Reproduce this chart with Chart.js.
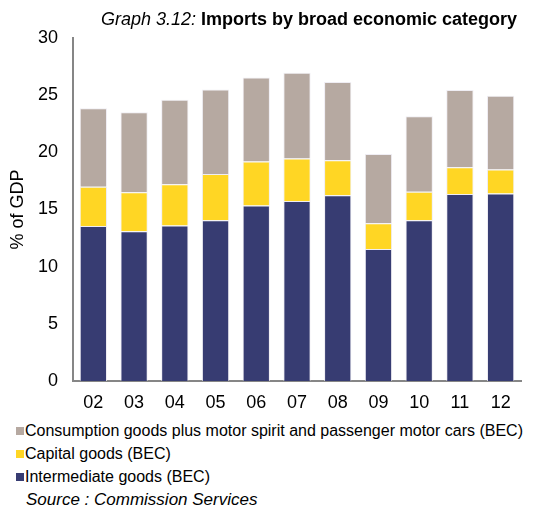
<!DOCTYPE html>
<html>
<head>
<meta charset="utf-8">
<script src="https://cdn.jsdelivr.net/npm/chart.js@4"></script>
<style>
  body { margin: 0; background: #fff; font-family: "Liberation Sans", Arial, sans-serif; color: #000; }
  #wrap { position: relative; width: 548px; height: 510px; }
  #title { position: absolute; left: 0; width: 618px; top: 8px; text-align: center; font-size: 18px; line-height: 22px; }
  #title i { font-weight: normal; }
  #chartBox { position: absolute; left: 0; top: 0; width: 548px; height: 415px; }
  #legend { position: absolute; left: 16px; top: 419px; font-size: 16px; }
  .item { height: 23px; line-height: 23px; white-space: nowrap; }
  .sw { display: inline-block; width: 8px; height: 8px; margin-right: 1px; vertical-align: 1px; }
  #source { position: absolute; left: 26px; top: 490px; font-size: 17px; font-style: italic; }
</style>
</head>
<body>
<div id="wrap">
  <div id="chartBox"><canvas id="myChart"></canvas></div>
  <div id="title"><i>Graph 3.12:</i> <b>Imports by broad economic category</b></div>
  <div id="legend"></div>
  <div id="source">Source : Commission Services</div>
</div>
<script>
// Données (% du PIB)
const years = ['02', '03', '04', '05', '06', '07', '08', '09', '10', '11', '12'];
const intermediate = [13.55, 13.1, 13.6, 14.05, 15.35, 15.75, 16.25, 11.55, 14.05, 16.35, 16.4];
const capital = [3.45, 3.4, 3.6, 4.05, 3.85, 3.7, 3.05, 2.25, 2.5, 2.35, 2.1];
const consumption = [6.85, 7.0, 7.4, 7.4, 7.35, 7.5, 6.85, 6.05, 6.6, 6.75, 6.45];
const yTicks = [0, 5, 10, 15, 20, 25, 30];

const seriesNames = [
    'Intermediate goods (BEC)',
    'Capital goods (BEC)',
    'Consumption goods plus motor spirit and passenger motor cars (BEC)'
];
const seriesColors = ['#373c72', '#ffd624', '#b6a9a1'];

const ctx = document.getElementById('myChart').getContext('2d');
const myChart = new Chart(ctx, {
    type: 'bar',
    data: {
        labels: years,
        datasets: [intermediate, capital, consumption].map((values, i) => ({
            label: seriesNames[i],
            data: values,
            backgroundColor: seriesColors[i],
            borderColor: 'rgba(235,232,240,0.8)',
            borderWidth: 1,
            barPercentage: 0.67,
            categoryPercentage: 1
        }))
    },
    options: {
        responsive: true,
        maintainAspectRatio: false,
        animation: false,
        layout: { padding: { top: 38, right: 27, left: 0, bottom: 0 } },
        plugins: {
            legend: { display: false },
            tooltip: { enabled: false }
        },
        scales: {
            x: {
                stacked: true,
                grid: { display: false, drawTicks: false },
                border: { display: true, color: '#868686', width: 2 },
                ticks: { color: '#000', font: { family: 'Liberation Sans', size: 18 }, padding: 11, maxRotation: 0 },
                afterFit: function(scale) { scale.height = 34; }
            },
            y: {
                stacked: true,
                min: 0,
                max: 30,
                grid: { display: false, drawTicks: false },
                border: { display: true, color: '#868686', width: 2 },
                afterBuildTicks: function(scale) {
                    scale.ticks = yTicks.map(v => ({ value: v }));
                },
                ticks: { color: '#000', font: { family: 'Liberation Sans', size: 18 }, padding: 15 },
                title: {
                    display: true,
                    text: '% of GDP',
                    color: '#000',
                    font: { family: 'Liberation Sans', size: 18 },
                    padding: { top: 7, bottom: 0 }
                },
                afterFit: function(scale) { scale.width = 73; }
            }
        }
    }
});

// Légende HTML (ordre inversé comme dans l'original)
const legend = document.getElementById('legend');
for (let i = seriesNames.length - 1; i >= 0; i--) {
    const div = document.createElement('div');
    div.className = 'item';
    div.innerHTML = '<span class="sw" style="background:' + seriesColors[i] + '"></span>' + seriesNames[i];
    legend.appendChild(div);
}
</script>
</body>
</html>
